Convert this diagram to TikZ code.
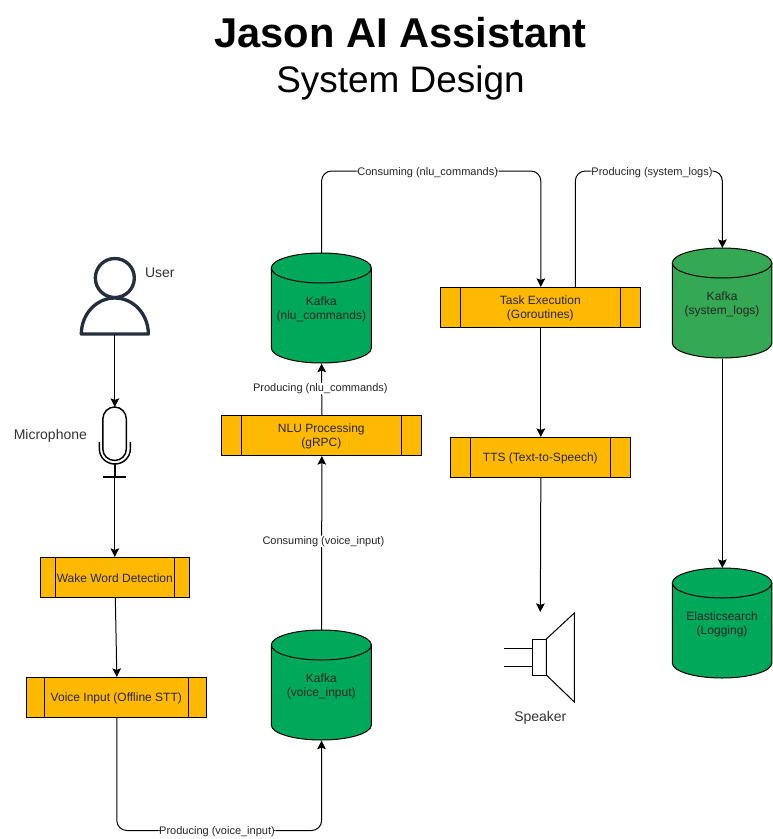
\documentclass[tikz,border=0pt]{standalone}
\usepackage{fontspec}
\setmainfont{Liberation Sans}
\usetikzlibrary{arrows.meta}
\definecolor{procfill}{HTML}{FFB900}
\definecolor{dbgreen}{HTML}{00A85A}
\definecolor{dbgreenb}{HTML}{34A853}
\definecolor{usercol}{HTML}{232F3E}
\definecolor{txt}{HTML}{262626}
\definecolor{lbl}{HTML}{333333}
\tikzset{
  x=0.75pt,y=-0.75pt,
  every node/.style={font=\fontsize{9}{10.5}\selectfont,text=txt,align=center,inner sep=0pt},
  conn/.style={draw=black,line width=0.75pt,rounded corners=7.5pt,-{Stealth[length=6.5pt,width=6.5pt,inset=1.2pt]}},
  edgelabel/.style={fill=white,font=\fontsize{8.25}{10}\selectfont,inner xsep=0.5pt,inner ysep=0.5pt,yshift=-1pt,xshift=0.5pt},
  bodytext/.style={yshift=-1pt},
  plainlabel/.style={font=\fontsize{10.5}{12}\selectfont,text=lbl,yshift=-0.5pt},
  shapeline/.style={draw=black,line width=0.75pt},
  micline/.style={draw=black,line width=1.1pt},
  boxnode/.style={draw=black,line width=0.75pt,fill=procfill,rectangle}
}
% name, x1, y1, x2, y2, inner inset, text
\newcommand{\procbox}[7]{%
  \node[boxnode,minimum width={(#4-#2)*0.75pt},minimum height={(#5-#3)*0.75pt},anchor=north west] (#1) at (#2,#3) {};
  \draw[shapeline] (#2+#6,#3) -- (#2+#6,#5) (#4-#6,#3) -- (#4-#6,#5);
  \node[bodytext] at ({(#2+#4)/2},{(#3+#5)/2}) {#7};
}
% name, x1, y1, x2, y2, colour, text
\newcommand{\dbcyl}[7]{%
  \draw[shapeline,fill=#6] (#2,#3+15) arc[start angle=180,end angle=360,x radius={(#4-#2)/2},y radius=15]
     -- (#4,#5-15) arc[start angle=0,end angle=180,x radius={(#4-#2)/2},y radius=15] -- cycle;
  \draw[shapeline] (#2,#3+15) arc[start angle=180,end angle=360,x radius={(#4-#2)/2},y radius=-15];
  \node[minimum width={(#4-#2)*0.75pt},minimum height={(#5-#3)*0.75pt},anchor=north west] (#1) at (#2,#3) {};
  \node[bodytext] at ({(#2+#4)/2},{(#3+#5)/2+0.5}) {#7};
}
\begin{document}
\begin{tikzpicture}
\useasboundingbox (0,0) rectangle (773,839);
% titles
\node[font=\bfseries\fontsize{31.25}{36}\selectfont,text=black] (title) at (400.5,33) {Jason AI Assistant};
\node[font=\fontsize{27.7}{32}\selectfont,text=black] (subtitle) at (400.5,82.5) {System Design};
\begin{scope}[xshift=-0.5pt]
% user
\draw[usercol,line width=2.5pt] (115.5,278) circle[radius=19.5];
\draw[usercol,line width=2.5pt,line join=round] (82,334) arc[start angle=180,end angle=360,x radius=33.5,y radius=36] -- cycle;
\coordinate (userfoot) at (115.5,335);
\node[plainlabel] (userlabel) at (160.5,272) {User};
% microphone
\draw[micline] (103.5,419) arc[start angle=180,end angle=360,x radius=11.75,y radius=12] -- (127,449) arc[start angle=0,end angle=180,x radius=11.75,y radius=11.5] -- cycle;
\draw[micline] (100,442) -- (100,449) arc[start angle=180,end angle=360,x radius=15.5,y radius=-15] -- (131,442);
\draw[micline] (115.5,464) -- (115.5,477) (104,477) -- (127,477);
\coordinate (mictop) at (115.5,407);
\coordinate (micfoot) at (115.5,477);
\node[plainlabel] (miclabel) at (51,435) {Microphone};
% process boxes
\procbox{wake}{41}{557}{190}{597}{15}{Wake Word Detection}
\procbox{voice}{27}{677}{207}{717}{18}{Voice Input (Offline STT)}
\procbox{nlu}{222}{415}{422}{455}{20}{NLU Processing\\(gRPC)}
\procbox{task}{441}{287}{641}{327}{20}{Task Execution\\(Goroutines)}
\procbox{tts}{451}{437}{631}{477}{20}{TTS (Text-to-Speech)}
% cylinders
\dbcyl{kvoice}{272}{630}{372}{740}{dbgreen}{Kafka\\(voice\_input)}
\dbcyl{knlu}{272}{253}{372}{363}{dbgreen}{Kafka\\(nlu\_commands)}
\dbcyl{ksys}{673}{248}{772.5}{358}{dbgreenb}{Kafka\\(system\_logs)}
\dbcyl{elastic}{673}{568}{772.5}{678}{dbgreen}{Elasticsearch\\(Logging)}
% speaker
\draw[shapeline] (575,613) -- (575,702) -- (547,675) -- (547,639) -- cycle;
\draw[shapeline] (533,639) rectangle (547,675);
\draw[shapeline] (505,648) -- (533,648) (505,666) -- (533,666);
\coordinate (spktop) at (541,612);
\node[plainlabel] (spklabel) at (541,717) {Speaker};
% connector anchors
\coordinate (taskout) at (576,287);
% connectors
\draw[conn] (userfoot) -- (mictop);
\draw[conn] (micfoot) -- (wake.north -| micfoot);
\draw[conn] (wake.south) -- (voice.north);
\draw[conn] (voice.south) |- (217,830.5) -| (kvoice.south) node[pos=0,edgelabel,text=txt] (lab1) {Producing (voice\_input)};
\draw[conn] (kvoice.north) -- (nlu.south) node[midway,edgelabel,yshift=2.25pt,xshift=0.75pt] (lab2) {Consuming (voice\_input)};
\draw[conn] (nlu.north) -- (knlu.south) node[midway,edgelabel,yshift=1.5pt,xshift=-1.5pt] (lab3) {Producing (nlu\_commands)};
\draw[conn] (knlu.north) |- (427,171) -| (task.north) node[pos=0,edgelabel,xshift=0.5pt] (lab4) {Consuming (nlu\_commands)};
\draw[conn] (taskout) |- (652,171) -| (ksys.north) node[pos=0,edgelabel] (lab5) {Producing (system\_logs)};
\draw[conn] (task.south) -- (tts.north);
\draw[conn] (tts.south) -- (spktop);
\draw[conn] (ksys.south) -- (elastic.north);
\end{scope}
\end{tikzpicture}
\end{document}
